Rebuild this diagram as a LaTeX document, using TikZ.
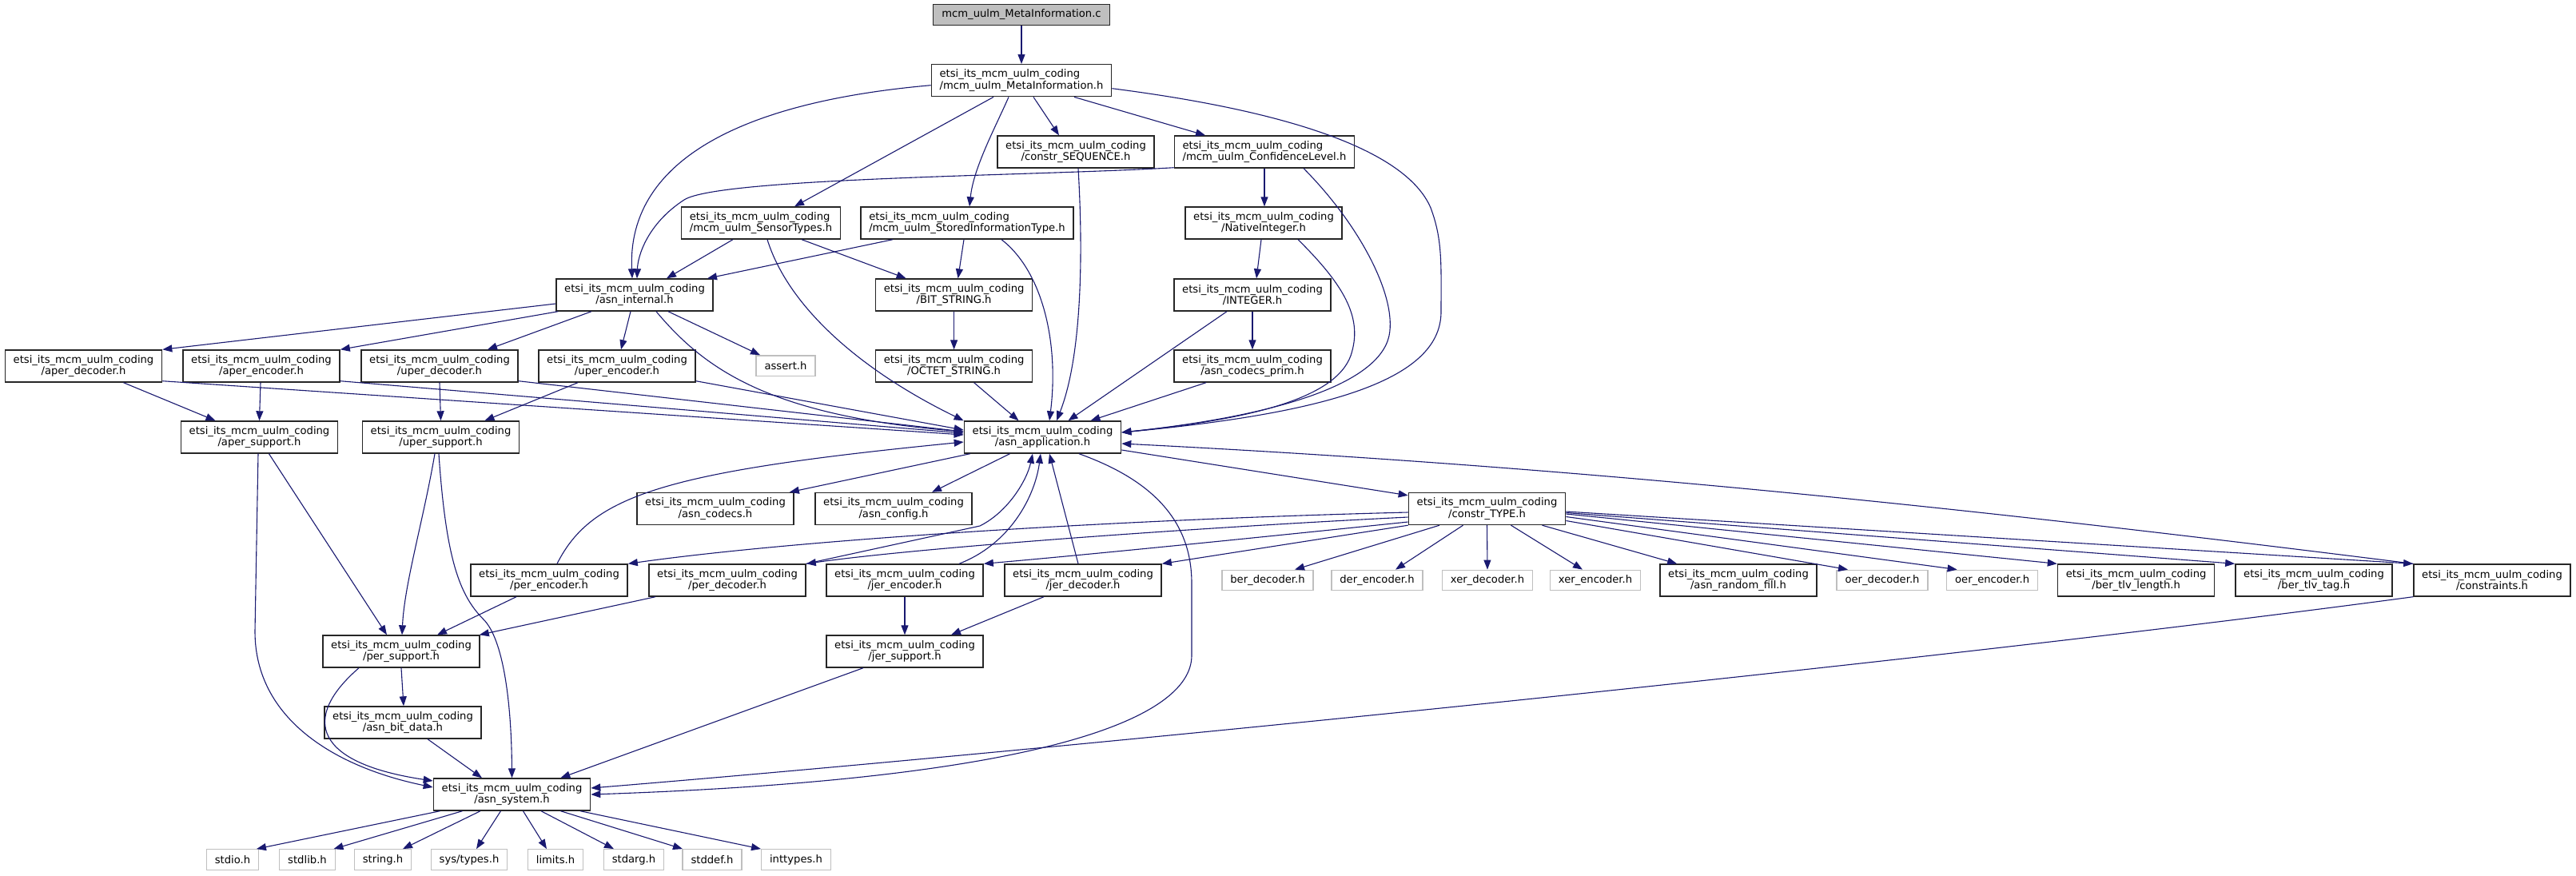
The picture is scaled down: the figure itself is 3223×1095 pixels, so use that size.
\documentclass[tikz,border=0pt]{standalone}
\usepackage{fontspec}
\setmainfont{DejaVu Sans}
\usetikzlibrary{arrows.meta,calc}
\definecolor{edgeblue}{HTML}{191970}
\definecolor{graybd}{HTML}{BFBFBF}
\definecolor{rootgray}{HTML}{BFBFBF}
\definecolor{boxbd}{HTML}{262626}
\newcommand\dxf{\fontsize{13.15pt}{14.3pt}\selectfont}
\begin{document}
\begin{tikzpicture}[x=1pt,y=-1pt,
  hdr/.style={draw=boxbd, line width=1.4pt, fill=white, inner xsep=10.3pt, inner ysep=0pt, minimum height=40pt, align=center, font=\dxf},
  hdrl/.style={hdr, align=left},
  sysh/.style={draw=graybd, line width=1.3pt, fill=white, inner xsep=10.4pt, inner ysep=0pt, minimum height=25.5pt, font=\dxf},
  rootn/.style={draw=boxbd, line width=1.4pt, fill=rootgray, inner xsep=10.8pt, inner ysep=0pt, minimum height=25.6pt, font=\dxf},
  dep/.style={draw=edgeblue, line width=1.1pt, -{Triangle[length=12pt,width=9pt]}}]
\useasboundingbox[fill=white] (0,0) rectangle (3223,1095);
\def\P{etsi\_its\_mcm\_uulm\_coding\\}
% nodes
\node[rootn] (C) at (1278,18.5) {mcm\_uulm\_MetaInformation.c};
\node[hdrl] (MI) at (1278,100.7) {\P/mcm\_uulm\_MetaInformation.h};
\node[hdr] (SEQ) at (1346,190) {\P/constr\_SEQUENCE.h};
\node[hdrl] (CL) at (1582,190) {\P/mcm\_uulm\_ConfidenceLevel.h};
\node[hdrl] (ST) at (952,279) {\P/mcm\_uulm\_SensorTypes.h};
\node[hdrl] (SIT) at (1210,279) {\P/mcm\_uulm\_StoredInformationType.h};
\node[hdr] (NI) at (1581,279) {\P/NativeInteger.h};
\node[hdr] (AI) at (794,369) {\P/asn\_internal.h};
\node[hdr] (BIT) at (1193.6,369) {\P/BIT\_STRING.h};
\node[hdr] (INT) at (1567,369) {\P/INTEGER.h};
\node[hdr] (APD) at (104.5,458) {\P/aper\_decoder.h};
\node[hdr] (APE) at (327,458) {\P/aper\_encoder.h};
\node[hdr] (UPD) at (550,458) {\P/uper\_decoder.h};
\node[hdr] (UPE) at (772,458) {\P/uper\_encoder.h};
\node[sysh] (ASSERT) at (983,457.6) {assert.h};
\node[hdr] (OCT) at (1193.6,458) {\P/OCTET\_STRING.h};
\node[hdr] (PRIM) at (1567,458) {\P/asn\_codecs\_prim.h};
\node[hdr] (APS) at (324.5,547) {\P/aper\_support.h};
\node[hdr] (UPS) at (551.5,547) {\P/uper\_support.h};
\node[hdr] (AA) at (1304.5,547) {\P/asn\_application.h};
\node[hdr] (COD) at (895,636.5) {\P/asn\_codecs.h};
\node[hdr] (CFG) at (1118,636.5) {\P/asn\_config.h};
\node[hdr] (CT) at (1860.5,636.5) {\P/constr\_TYPE.h};
\node[hdr] (PE) at (687,726) {\P/per\_encoder.h};
\node[hdr] (PD) at (910,726) {\P/per\_decoder.h};
\node[hdr] (JE) at (1132,726) {\P/jer\_encoder.h};
\node[hdr] (JD) at (1355,726) {\P/jer\_decoder.h};
\node[sysh] (BERD) at (1586,726) {ber\_decoder.h};
\node[sysh] (DERE) at (1723,726) {der\_encoder.h};
\node[sysh] (XERD) at (1861,726) {xer\_decoder.h};
\node[sysh] (XERE) at (1996,726) {xer\_encoder.h};
\node[hdr] (RND) at (2175,726) {\P/asn\_random\_fill.h};
\node[sysh] (OERD) at (2355,726) {oer\_decoder.h};
\node[sysh] (OERE) at (2492.6,726) {oer\_encoder.h};
\node[hdr] (TLVL) at (2672.6,726) {\P/ber\_tlv\_length.h};
\node[hdr] (TLVT) at (2895,726) {\P/ber\_tlv\_tag.h};
\node[hdr] (CONS) at (3118,726) {\P/constraints.h};
\node[hdr] (PS) at (502,815) {\P/per\_support.h};
\node[hdr] (JS) at (1132,815) {\P/jer\_support.h};
\node[hdr] (BD) at (504,904) {\P/asn\_bit\_data.h};
\node[hdr] (SYS) at (640.5,994) {\P/asn\_system.h};
\node[sysh] (STDIO) at (291,1075.5) {stdio.h};
\node[sysh] (STDLIB) at (384.5,1075.5) {stdlib.h};
\node[sysh] (STRING) at (479,1075.5) {string.h};
\node[sysh] (TYPES) at (587,1075.5) {sys/types.h};
\node[sysh] (LIMITS) at (695,1075.5) {limits.h};
\node[sysh] (STDARG) at (793,1075.5) {stdarg.h};
\node[sysh] (STDDEF) at (891,1075.5) {stddef.h};
\node[sysh] (INTTYPES) at (996,1075.5) {inttypes.h};
% edges
\draw[dep] (C.south) -- (MI.north);
\draw[dep] ([yshift=-6pt]MI.west) .. controls (900,130) and (785,215) .. ([xshift=-3pt]AI.north);
\draw[dep] ([xshift=-35pt]MI.south) -- ([xshift=42pt]ST.north);
\draw[dep] ([xshift=-16pt]MI.south) .. controls (1245,160) and (1218,210) .. ([xshift=3pt]SIT.north);
\draw[dep] ([xshift=15pt]MI.south) -- ([xshift=-21pt]SEQ.north);
\draw[dep] ([xshift=66pt]MI.south) -- ([xshift=-74pt]CL.north);
\draw[dep] ([yshift=-10pt]MI.east) .. controls (1620,140) and (1760,190) .. (1790,260) .. controls (1805,300) and (1803,330) .. (1803,390) .. controls (1803,470) and (1680,515) .. ([yshift=6pt]AA.east);
\draw[dep] ([yshift=1pt]CL.south west) .. controls (1300,220) and (900,222) .. (856,250) .. controls (810,280) and (798,320) .. ([xshift=3pt]AI.north);
\draw[dep] (CL.south) -- ([xshift=1pt]NI.north);
\draw[dep] ([xshift=49pt]CL.south) .. controls (1700,280) and (1748,370) .. (1738,420) .. controls (1725,480) and (1600,520) .. ([yshift=6pt]AA.east);
\draw[dep] ([xshift=3pt]SEQ.south) .. controls (1356,330) and (1352,450) .. ([xshift=17.5pt]AA.north);
\draw[dep] ([xshift=-35pt]ST.south) -- ([xshift=40pt]AI.north);
\draw[dep] ([xshift=51pt]ST.south) -- ([xshift=-60pt]BIT.north);
\draw[dep] ([xshift=8pt]ST.south) .. controls (985,380) and (1070,460) .. (AA.north west);
\draw[dep] ([xshift=-93pt]SIT.south) -- ([xshift=91pt]AI.north);
\draw[dep] ([xshift=-4pt]SIT.south) -- ([xshift=5pt]BIT.north);
\draw[dep] ([xshift=43pt]SIT.south) .. controls (1305,340) and (1325,430) .. ([xshift=8.5pt]AA.north);
\draw[dep] ([yshift=-11pt]AI.west) -- (APD.north east);
\draw[dep] ([xshift=3pt]AI.south west) -- (APE.north east);
\draw[dep] ([xshift=-54pt]AI.south) -- ([xshift=60pt]UPD.north);
\draw[dep] ([xshift=-5pt]AI.south) -- ([xshift=5pt]UPE.north);
\draw[dep] ([xshift=42pt]AI.south) -- ([xshift=-32pt]ASSERT.north);
\draw[dep] ([xshift=27pt]AI.south) .. controls (880,460) and (960,520) .. ([yshift=7pt]AA.west);
\draw[dep] (BIT.south) -- (OCT.north);
\draw[dep] ([xshift=25pt]OCT.south) -- ([xshift=-30pt]AA.north);
\draw[dep] ([xshift=-3pt]NI.south) -- ([xshift=5pt]INT.north);
\draw[dep] ([xshift=43pt]NI.south) .. controls (1685,360) and (1705,400) .. (1690,445) .. controls (1670,500) and (1560,525) .. ([yshift=6pt]AA.east);
\draw[dep] ([xshift=-32pt]INT.south) -- ([xshift=32pt]AA.north);
\draw[dep] (INT.south) -- (PRIM.north);
\draw[dep] ([xshift=-58pt]PRIM.south) -- ([xshift=60pt]AA.north);
\draw[dep] ([xshift=50pt]APD.south) -- ([xshift=-55pt]APS.north);
\draw[dep] ([yshift=2pt]APD.south east) -- ([yshift=3pt]AA.west);
\draw[dep] ([xshift=-1pt]APE.south) -- (APS.north);
\draw[dep] ([yshift=2pt]APE.south east) -- ([yshift=5pt]AA.west);
\draw[dep] (UPD.south) -- (UPS.north);
\draw[dep] ([yshift=2pt]UPD.south east) -- ([yshift=7pt]AA.west);
\draw[dep] ([xshift=-49pt]UPE.south) -- ([xshift=55pt]UPS.north);
\draw[dep] ([yshift=2pt]UPE.south east) -- ([yshift=9pt]AA.west);
\draw[dep] ([xshift=12pt]APS.south) -- ([xshift=-18pt]PS.north);
\draw[dep] ([xshift=-1.5pt]APS.south) -- (319,790) .. controls (319,900) and (420,960) .. ([yshift=9pt]SYS.west);
\draw[dep] ([xshift=-7.5pt]UPS.south) .. controls (530,650) and (506,730) .. ([xshift=1pt]PS.north);
\draw[dep] ([xshift=-2.5pt]UPS.south) .. controls (558,700) and (575,745) .. (605,775) .. controls (630,800) and (640,880) .. (SYS.north);
\draw[dep] ([xshift=8pt]AA.south west) -- ([xshift=-6pt]COD.north east);
\draw[dep] ([xshift=-41pt]AA.south) -- ([xshift=48pt]CFG.north);
\draw[dep] ([yshift=-16pt]AA.east) -- ([yshift=-4pt]CT.north west);
\draw[dep] ([xshift=45.5pt]AA.south) .. controls (1440,600) and (1491,650) .. (1491,730) -- (1491,820) .. controls (1491,900) and (1300,975) .. (SYS.east);
\draw[dep] (CONS.north west) .. controls (2500,640) and (2000,585) .. ([yshift=-8pt]AA.east);
\draw[dep] ([yshift=-4.5pt]CT.west) .. controls (1400,650) and (1000,675) .. (PE.north east);
\draw[dep] ([yshift=-10.5pt]CT.west) .. controls (1500,660) and (1150,685) .. (PD.north east);
\draw[dep] ([yshift=-16.5pt]CT.west) .. controls (1550,675) and (1350,695) .. (JE.north east);
\draw[dep] (CT.south west) -- (JD.north east);
\draw[dep] ([xshift=10pt]PE.north) .. controls (740,620) and (830,590) .. ([yshift=-6pt]AA.west);
\draw[dep] (PD.north east) -- (1226,658) .. controls (1262,640) and (1285,600) .. ([xshift=-12.5pt]AA.south);
\draw[dep] ([xshift=68pt]JE.north) .. controls (1265,680) and (1295,620) .. ([xshift=-2.5pt]AA.south);
\draw[dep] ([xshift=-6pt]JD.north) -- ([xshift=8.5pt]AA.south);
\draw[dep] ([xshift=-41pt]PE.south) -- ([xshift=45pt]PS.north);
\draw[dep] ([xshift=-90pt]PD.south) -- ([xshift=-1pt]PS.north east);
\draw[dep] (JE.south) -- (JS.north);
\draw[dep] ([xshift=-49pt]JD.south) -- ([xshift=58pt]JS.north);
\draw[dep] ([xshift=-59.5pt]CT.south) -- ([xshift=34pt]BERD.north);
\draw[dep] ([xshift=-30pt]CT.south) -- ([xshift=23pt]DERE.north);
\draw[dep] (CT.south) -- (XERD.north);
\draw[dep] ([xshift=30pt]CT.south) -- ([xshift=-16pt]XERE.north);
\draw[dep] ([xshift=69pt]CT.south) -- ([xshift=22pt]RND.north west);
\draw[dep] ([yshift=-15pt]CT.east) -- ([xshift=-43pt]OERD.north);
\draw[dep] ([yshift=-10pt]CT.east) -- ([xshift=-44pt]OERE.north);
\draw[dep] ([yshift=-6.5pt]CT.east) -- (TLVL.north west);
\draw[dep] ([yshift=-5pt]CT.east) -- (TLVT.north west);
\draw[dep] ([yshift=-3.5pt]CT.east) -- (CONS.north west);
\draw[dep] (CONS.south west) .. controls (2400,830) and (1300,940) .. ([yshift=8pt]SYS.east);
\draw[dep] ([xshift=-52pt]JS.south) -- ([xshift=-38pt]SYS.north east);
\draw[dep] (PS.south) -- ([xshift=1pt]BD.north);
\draw[dep] ([xshift=-53pt]PS.south) .. controls (375,900) and (395,955) .. ([yshift=17pt]SYS.west);
\draw[dep] ([xshift=31pt]BD.south) -- ([xshift=-37.5pt]SYS.north);
\draw[dep] ([xshift=-90pt]SYS.south) -- ([xshift=30pt]STDIO.north);
\draw[dep] ([xshift=-62pt]SYS.south) -- ([xshift=33pt]STDLIB.north);
\draw[dep] ([xshift=-39.5pt]SYS.south) -- ([xshift=25pt]STRING.north);
\draw[dep] ([xshift=-14pt]SYS.south) -- ([xshift=9pt]TYPES.north);
\draw[dep] ([xshift=14pt]SYS.south) -- ([xshift=-11pt]LIMITS.north);
\draw[dep] ([xshift=36.5pt]SYS.south) -- ([xshift=-25pt]STDARG.north);
\draw[dep] ([xshift=61pt]SYS.south) -- ([xshift=-37pt]STDDEF.north);
\draw[dep] ([xshift=85.5pt]SYS.south) -- (INTTYPES.north west);
\end{tikzpicture}
\end{document}
